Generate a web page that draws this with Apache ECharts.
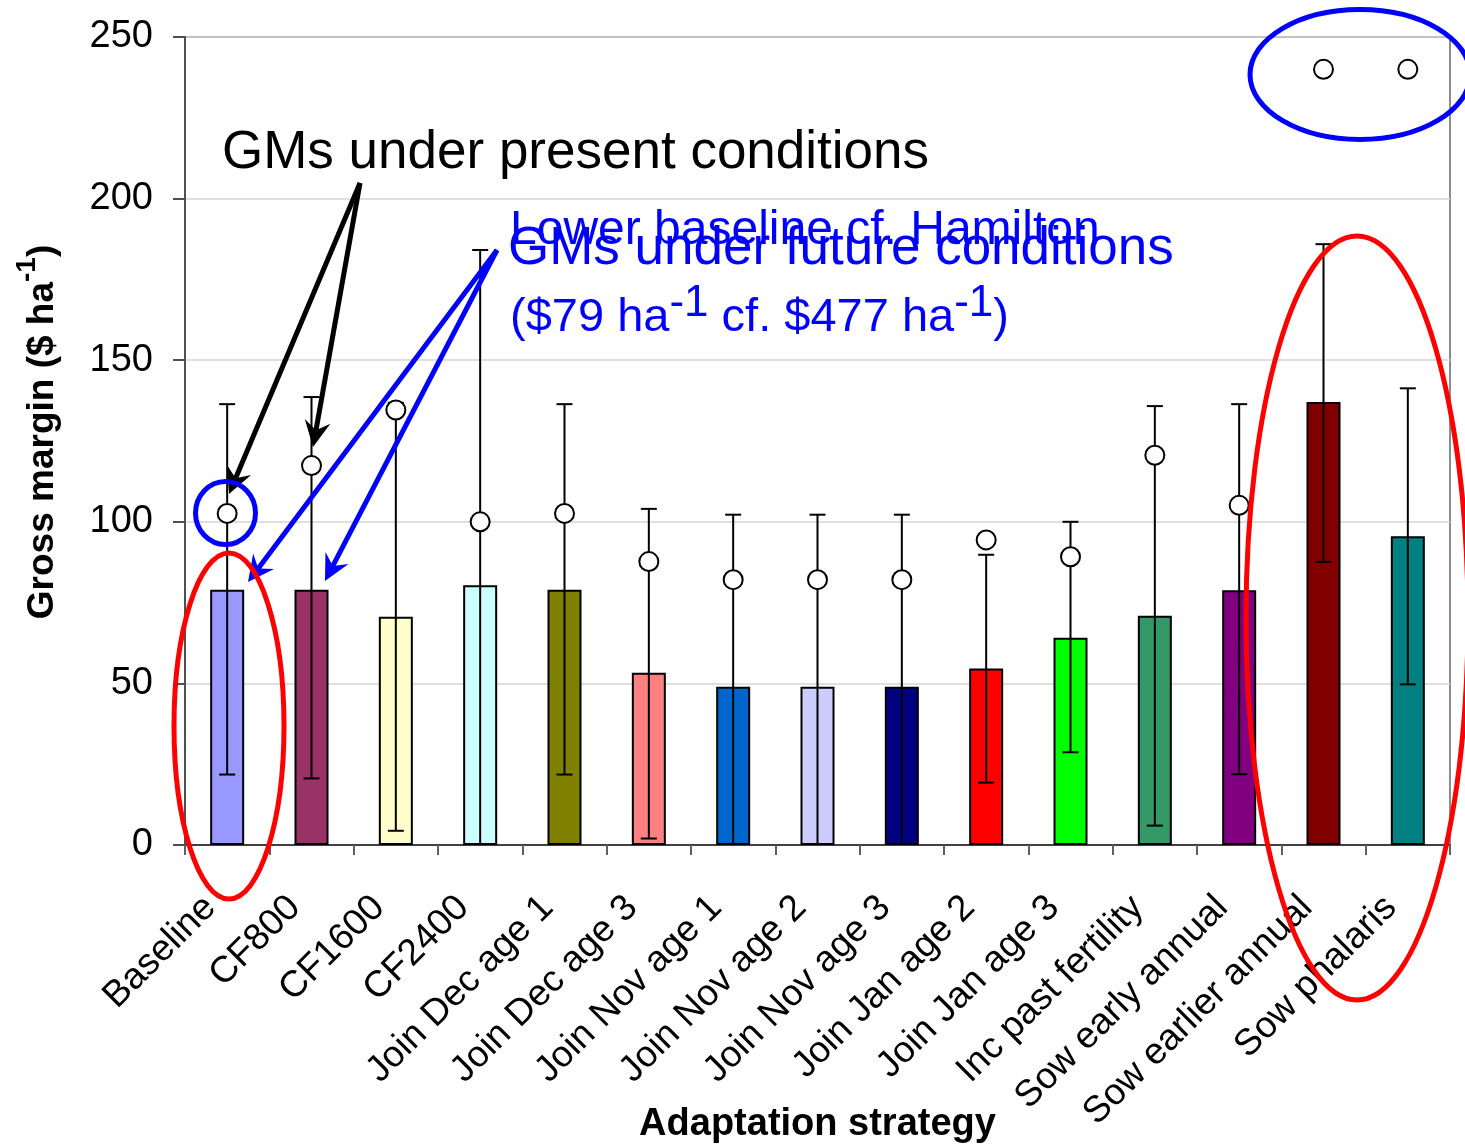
<!DOCTYPE html>
<html>
<head>
<meta charset="utf-8">
<title>Gross margin by adaptation strategy</title>
<script src="https://cdn.jsdelivr.net/npm/echarts@6/dist/echarts.min.js"></script>
<style>
  html, body { margin: 0; padding: 0; background: #ffffff; }
  #chart { width: 1465px; height: 1148px; }
</style>
</head>
<body>
<div id="chart"></div>
<script>
  // adaptation strategies (x axis)
  var strategies = ['Baseline', 'CF800', 'CF1600', 'CF2400', 'Join Dec age 1', 'Join Dec age 3',
    'Join Nov age 1', 'Join Nov age 2', 'Join Nov age 3', 'Join Jan age 2', 'Join Jan age 3',
    'Inc past fertility', 'Sow early annual', 'Sow earlier annual', 'Sow phalaris'];
  // GMs under future conditions (bars)
  var futureGM = [79, 79, 70.6, 80.4, 79, 53.3, 49, 49, 49, 54.6, 64.1, 70.9, 78.8, 137.1, 95.5];
  // error bar ends for the future GMs
  var errUpper = [136.4, 138.6, 136.8, 184.1, 136.4, 104, 102.2, 102.2, 102.2, 89.8, 100, 135.8, 136.4, 185.9, 141.3];
  var errLower = [21.8, 20.6, 4.4, -23.3, 21.8, 2, -4.2, -4.2, -4.2, 19.3, 28.7, 6, 21.9, 87.6, 49.7];
  // GMs under present conditions (open circles)
  var presentGM = [102.6, 117.4, 134.6, 100, 102.6, 87.7, 82.1, 82.1, 82.1, 94.4, 89.2, 120.6, 105.1, 240, 240];
  var barColors = ['#9999FF', '#993366', '#FFFFCC', '#CCFFFF', '#808000', '#FF8080', '#0066CC', '#CCCCFF',
    '#000080', '#FF0000', '#00FF00', '#339966', '#800080', '#800000', '#008080'];
  var yTicks = [0, 50, 100, 150, 200, 250];

  var FONT = 'Liberation Sans, Arial, sans-serif';
  var chart = echarts.init(document.getElementById('chart'));

  // arrow = line + swept-back head (annotation only)
  function arrow(x1, y1, x2, y2, color) {
    var dx = x2 - x1, dy = y2 - y1;
    var len = Math.sqrt(dx * dx + dy * dy);
    var ux = dx / len, uy = dy / len, px = -uy, py = ux;
    var L = 26, W = 13, N = 17;
    var bx = x2 - ux * L, by = y2 - uy * L;
    var nx = x2 - ux * N, ny = y2 - uy * N;
    return [
      { type: 'line', z: 100, shape: { x1: x1, y1: y1, x2: nx, y2: ny },
        style: { stroke: color, lineWidth: 5 } },
      { type: 'polygon', z: 100, shape: { points: [[x2, y2], [bx + px * W, by + py * W], [nx, ny], [bx - px * W, by - py * W]] },
        style: { fill: color } }
    ];
  }

  var notes = [].concat(
    arrow(360, 183, 229, 494, '#000000'),
    arrow(360, 183, 313, 447, '#000000'),
    arrow(497, 250, 248, 582, '#0000FF'),
    arrow(497, 250, 325, 581, '#0000FF'),
    [
      { type: 'ellipse', z: 100, shape: { cx: 225.5, cy: 513, rx: 30, ry: 31.5 },
        style: { fill: 'none', stroke: '#0000FF', lineWidth: 5 } },
      { type: 'ellipse', z: 100, shape: { cx: 1360, cy: 74.5, rx: 110, ry: 65 },
        style: { fill: 'none', stroke: '#0000FF', lineWidth: 5 } },
      { type: 'ellipse', z: 100, shape: { cx: 229, cy: 726, rx: 55, ry: 173 },
        style: { fill: 'none', stroke: '#FF0000', lineWidth: 5 } },
      { type: 'ellipse', z: 100, shape: { cx: 1357, cy: 618, rx: 111, ry: 382 },
        style: { fill: 'none', stroke: '#FF0000', lineWidth: 5 } },
      { type: 'text', z: 101, x: 222, y: 153,
        style: { text: 'GMs under present conditions', fill: '#000000', fontSize: 53, fontFamily: FONT,
          align: 'left', verticalAlign: 'middle' } },
      { type: 'text', z: 101, x: 510, y: 231,
        style: { text: 'Lower baseline cf. Hamilton', fill: '#0000FF', fontSize: 48, fontFamily: FONT,
          align: 'left', verticalAlign: 'middle' } },
      { type: 'text', z: 101, x: 508, y: 249,
        style: { text: 'GMs under future conditions', fill: '#0000FF', fontSize: 53, fontFamily: FONT,
          align: 'left', verticalAlign: 'middle' } },
      { type: 'text', z: 101, x: 510, y: 282,
        style: { text: '{m|($79 ha}{s|-1}{m| cf. $477 ha}{s|-1}{m|)}', fill: '#0000FF', fontFamily: FONT,
          align: 'left', verticalAlign: 'top',
          rich: {
            m: { fontSize: 47, lineHeight: 72, fontFamily: FONT, fill: '#0000FF' },
            s: { fontSize: 44, lineHeight: 44, verticalAlign: 'top', fontFamily: FONT, fill: '#0000FF' }
          } } }
    ]
  );

  var option = {
    animation: false,
    backgroundColor: '#ffffff',
    grid: {
      left: 185, right: 15, top: 37, bottom: 303,
      outerBoundsMode: 'none',
      containLabel: false,
      show: true, borderColor: '#8c8c8c', borderWidth: 2
    },
    xAxis: {
      type: 'category',
      data: strategies,
      name: 'Adaptation strategy',
      nameLocation: 'middle',
      nameGap: 261,
      nameMoveOverlap: false,
      nameTextStyle: { fontSize: 38, fontWeight: 'bold', fontFamily: FONT, color: '#000', verticalAlign: 'top' },
      axisLine: { lineStyle: { color: '#404040', width: 2 } },
      axisTick: { show: true, length: 10, lineStyle: { color: '#606060', width: 2 } },
      axisLabel: {
        rotate: 45, interval: 0, margin: 40, padding: [0, 24, 0, 0],
        fontSize: 37, fontFamily: FONT, color: '#000'
      },
      splitLine: { show: false }
    },
    yAxis: {
      type: 'value',
      min: yTicks[0],
      max: yTicks[yTicks.length - 1],
      interval: yTicks[1] - yTicks[0],
      name: '{m|Gross margin ($ ha}{s|-1}{m|)}',
      nameLocation: 'middle',
      nameRotate: 90,
      nameGap: 112,
      nameMoveOverlap: false,
      nameTextStyle: {
        fontSize: 37, fontWeight: 'bold', fontFamily: FONT, color: '#000',
        padding: [0, 0, 0, 18],
        rich: {
          m: { fontSize: 37, fontWeight: 'bold', fontFamily: FONT, color: '#000', lineHeight: 60 },
          s: { fontSize: 28, fontWeight: 'bold', fontFamily: FONT, color: '#000', lineHeight: 28, verticalAlign: 'top' }
        }
      },
      axisLine: { show: true, lineStyle: { color: '#505050', width: 2 } },
      axisTick: { show: true, length: 12, lineStyle: { color: '#505050', width: 2 } },
      axisLabel: { fontSize: 38, fontFamily: FONT, color: '#000', margin: 32 },
      splitLine: { lineStyle: { color: '#d4d4d4', width: 1.5 } }
    },
    series: [
      {
        name: 'GMs under future conditions',
        type: 'bar',
        barWidth: 34,
        z: 2,
        data: futureGM.map(function (v, i) {
          return { value: v, itemStyle: { color: barColors[i] } };
        }),
        itemStyle: { borderColor: '#000', borderWidth: 2 }
      },
      {
        name: 'range',
        type: 'custom',
        clip: true,
        z: 3,
        data: strategies.map(function (c, i) { return [i, errUpper[i], errLower[i]]; }),
        encode: { x: 0, y: [1, 2] },
        renderItem: function (params, api) {
          var hi = api.coord([api.value(0), api.value(1)]);
          var lo = api.coord([api.value(0), api.value(2)]);
          var cap = 8;
          var st = { stroke: '#000', lineWidth: 2 };
          return {
            type: 'group',
            children: [
              { type: 'line', shape: { x1: hi[0], y1: hi[1], x2: lo[0], y2: lo[1] }, style: st },
              { type: 'line', shape: { x1: hi[0] - cap, y1: hi[1], x2: hi[0] + cap, y2: hi[1] }, style: st },
              { type: 'line', shape: { x1: lo[0] - cap, y1: lo[1], x2: lo[0] + cap, y2: lo[1] }, style: st }
            ]
          };
        }
      },
      {
        name: 'GMs under present conditions',
        type: 'scatter',
        z: 4,
        symbol: 'circle',
        symbolSize: 19,
        data: presentGM,
        itemStyle: { color: '#ffffff', borderColor: '#000', borderWidth: 2, opacity: 1 }
      }
    ],
    graphic: notes
  };

  chart.setOption(option);
</script>
</body>
</html>
